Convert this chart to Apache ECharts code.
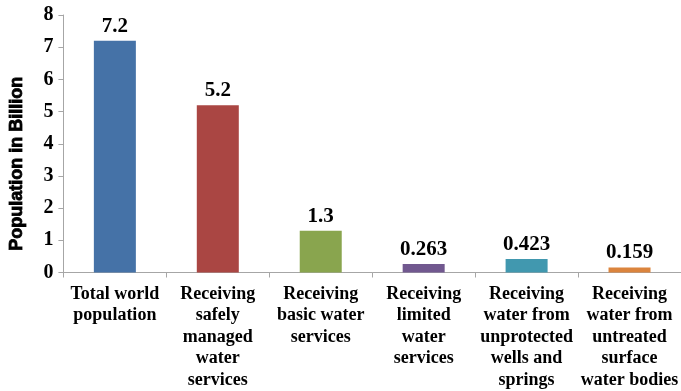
<!DOCTYPE html>
<html>
<head>
<meta charset="utf-8">
<script src="https://cdn.jsdelivr.net/npm/echarts@6/dist/echarts.min.js"></script>
<style>html,body{margin:0;padding:0;background:#fff}#c{width:681px;height:391px}</style>
</head>
<body>
<div id="c"></div>
<script>
var categories = [
  "Total world\npopulation",
  "Receiving\nsafely\nmanaged\nwater\nservices",
  "Receiving\nbasic water\nservices",
  "Receiving\nlimited\nwater\nservices",
  "Receiving\nwater from\nunprotected\nwells and\nsprings",
  "Receiving\nwater from\nuntreated\nsurface\nwater bodies"
];
var values = [7.2, 5.2, 1.3, 0.263, 0.423, 0.159];
var valueLabels = ["7.2", "5.2", "1.3", "0.263", "0.423", "0.159"];
var colors = ["#4572A7", "#AA4643", "#89A54E", "#71588F", "#4198AF", "#DB843D"];
var yTicks = [0, 1, 2, 3, 4, 5, 6, 7, 8];
var yName = "Population in Billion";

var chart = echarts.init(document.getElementById('c'));
chart.setOption({
  animation: false,
  grid: {left: 62, top: 15, bottom: 118, right: -5, containLabel: false},
  xAxis: {
    type: 'category',
    data: categories,
    axisLine: {lineStyle: {color: '#A6A6A6', width: 1}},
    axisTick: {show: true, length: 5, lineStyle: {color: '#A6A6A6'}},
    axisLabel: {
      interval: 0,
      margin: 11,
      fontFamily: 'Liberation Serif',
      fontWeight: 'bold',
      fontSize: 18,
      lineHeight: 21.5,
      color: '#000'
    }
  },
  yAxis: {
    type: 'value',
    min: yTicks[0],
    max: yTicks[yTicks.length - 1],
    interval: 1,
    name: yName,
    nameLocation: 'middle',
    nameGap: 37,
    nameTextStyle: {fontFamily: 'Liberation Sans', fontWeight: 'bold', fontSize: 18, color: '#000', textBorderColor: '#000', textBorderWidth: 0.8, padding: [0, 40, 0, 0]},
    axisLine: {show: true, lineStyle: {color: '#A6A6A6'}},
    axisTick: {show: true, length: 5, lineStyle: {color: '#A6A6A6'}},
    splitLine: {show: false},
    axisLabel: {
      margin: 10,
      fontFamily: 'Liberation Serif',
      fontWeight: 'bold',
      fontSize: 20,
      color: '#000'
    }
  },
  series: [{
    type: 'bar',
    barWidth: 42,
    data: values.map(function (v, i) { return {value: v, itemStyle: {color: colors[i]}}; }),
    label: {
      show: true,
      position: 'top',
      distance: 4,
      fontFamily: 'Liberation Serif',
      fontWeight: 'bold',
      fontSize: 21,
      color: '#000',
      formatter: function (p) { return valueLabels[p.dataIndex]; }
    }
  }]
});
</script>
</body>
</html>
